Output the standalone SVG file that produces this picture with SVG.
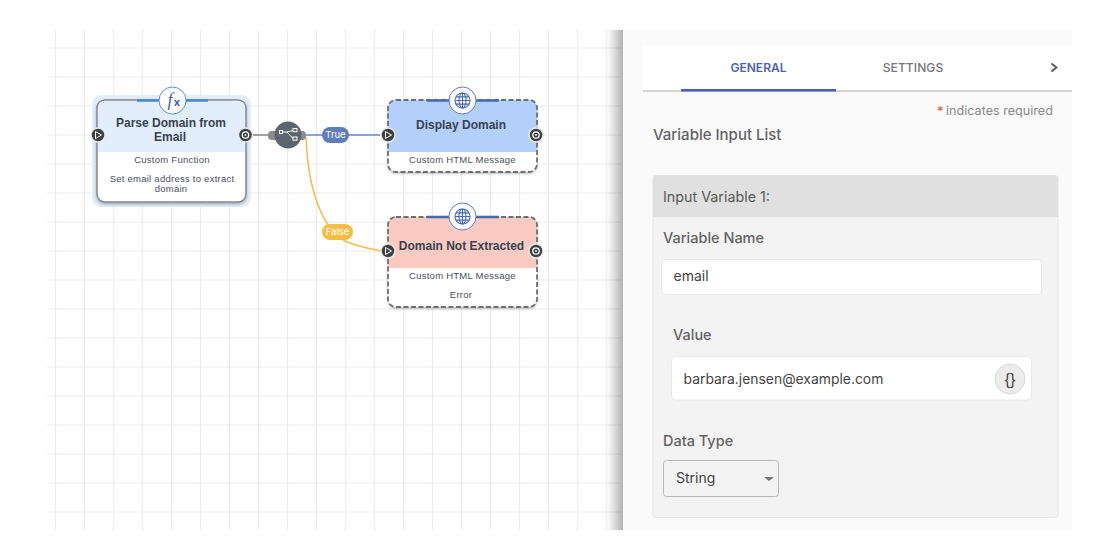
<svg xmlns="http://www.w3.org/2000/svg" width="1120" height="560" viewBox="0 0 1120 560">
<style>
text{font-family:"Inter","Liberation Sans",Arial,sans-serif}
.grid line{stroke:#ececee;stroke-width:1.2}
.title{font-family:"Liberation Sans",Arial,sans-serif;font-size:12px;font-weight:700;fill:#39424f;text-anchor:middle}
.sub{font-family:"Liberation Sans",Arial,sans-serif;font-size:9.5px;fill:#4a505c;text-anchor:middle;letter-spacing:.25px}
.lab{font-size:14.5px;font-weight:500;fill:#636363}
.edge{fill:#fff;font-size:9.5px;text-anchor:middle}
.frame{fill:#fff;stroke:#85898f;stroke-width:1.5}
.dash{fill:none;stroke:#6c7076;stroke-width:1.8;stroke-dasharray:5 2.5}
.port{fill:#3c4043;stroke:#e8e8e8;stroke-width:1.5}
.ico{fill:#fff;stroke:#5a90d8;stroke-width:1}
.glob{fill:none;stroke:#4a68b4;stroke-width:1.1}
</style>
<defs>
<linearGradient id="sh" x1="0" x2="1" y1="0" y2="0"><stop offset="0" stop-color="#000" stop-opacity="0"/><stop offset="1" stop-color="#000" stop-opacity=".3"/></linearGradient>
<filter id="ds" x="-10%" y="-10%" width="120%" height="125%"><feDropShadow dx="0" dy="1.5" stdDeviation="1.5" flood-color="#000" flood-opacity=".3"/></filter>
<g id="in"><circle r="7" class="port"/><path d="M-2.500-3.500 3.500 0-2.500 3.500Z" fill="#3c4043" stroke="#fff" stroke-width="1"/></g>
<g id="out"><circle r="7" class="port"/><circle r="3.200" fill="none" stroke="#fff" stroke-width="1.300"/><circle r=".9" fill="#fff"/></g>
<g id="globe"><circle r="7.500" class="glob"/><ellipse rx="3.500" ry="7.500" class="glob"/><path d="M-7.500 0H7.500M-6.500-3.600H6.500M-6.500 3.600H6.500M0-7.500V7.500" class="glob"/></g>
</defs>
<rect width="1120" height="560" fill="#fff"/>
<g class="grid" id="grid">
<line x1="55.500" y1="30" x2="55.500" y2="530"/><line x1="84.500" y1="30" x2="84.500" y2="530"/><line x1="113.500" y1="30" x2="113.500" y2="530"/><line x1="142.500" y1="30" x2="142.500" y2="530"/><line x1="171.500" y1="30" x2="171.500" y2="530"/><line x1="200.500" y1="30" x2="200.500" y2="530"/><line x1="229.500" y1="30" x2="229.500" y2="530"/><line x1="258.500" y1="30" x2="258.500" y2="530"/><line x1="287.500" y1="30" x2="287.500" y2="530"/><line x1="316.500" y1="30" x2="316.500" y2="530"/><line x1="345.500" y1="30" x2="345.500" y2="530"/><line x1="374.500" y1="30" x2="374.500" y2="530"/><line x1="403.500" y1="30" x2="403.500" y2="530"/><line x1="432.500" y1="30" x2="432.500" y2="530"/><line x1="461.500" y1="30" x2="461.500" y2="530"/><line x1="490.500" y1="30" x2="490.500" y2="530"/><line x1="519.500" y1="30" x2="519.500" y2="530"/><line x1="548.500" y1="30" x2="548.500" y2="530"/><line x1="577.500" y1="30" x2="577.500" y2="530"/><line x1="606.500" y1="30" x2="606.500" y2="530"/>
<line x1="47" y1="48" x2="622" y2="48"/><line x1="47" y1="77" x2="622" y2="77"/><line x1="47" y1="106" x2="622" y2="106"/><line x1="47" y1="135" x2="622" y2="135"/><line x1="47" y1="164" x2="622" y2="164"/><line x1="47" y1="193" x2="622" y2="193"/><line x1="47" y1="222" x2="622" y2="222"/><line x1="47" y1="251" x2="622" y2="251"/><line x1="47" y1="280" x2="622" y2="280"/><line x1="47" y1="309" x2="622" y2="309"/><line x1="47" y1="338" x2="622" y2="338"/><line x1="47" y1="367" x2="622" y2="367"/><line x1="47" y1="396" x2="622" y2="396"/><line x1="47" y1="425" x2="622" y2="425"/><line x1="47" y1="454" x2="622" y2="454"/><line x1="47" y1="483" x2="622" y2="483"/><line x1="47" y1="512" x2="622" y2="512"/>
</g>
<g id="connectors" fill="none">
<path d="M253 135H272" stroke="#8f8f8f" stroke-width="1.600"/>
<path d="M306 135H380" stroke="#6b86c0" stroke-width="1.600"/>
<path d="M306 137C308 190 322 228 345 241C358 247 372 249 381 251" stroke="#f5bf4f" stroke-width="1.600"/>
</g>
<g id="condition">
<rect x="268" y="131" width="38" height="9" rx="4" fill="#8a8d90"/>
<circle cx="288" cy="135" r="13.500" fill="#5d6670"/>
<path d="M282.500 132H287L293 130.500M287 132L293 138.500" fill="none" stroke="#fff" stroke-width="1"/>
<rect x="279.500" y="130.500" width="3" height="3" fill="#5d6670" stroke="#fff" stroke-width="1"/><rect x="293" y="128.500" width="4" height="3.200" fill="#5d6670" stroke="#fff" stroke-width="1"/><rect x="293" y="137" width="4" height="3.200" fill="#5d6670" stroke="#fff" stroke-width="1"/>
</g>
<g id="label-true"><rect x="322" y="127" width="27" height="16" rx="8" fill="#5f7dbb"/><text x="335.500" y="138" class="edge">True</text></g>
<g id="label-false"><rect x="322" y="224" width="31" height="16" rx="8" fill="#f6bd45"/><text x="337.500" y="235" class="edge">False</text></g>
<g id="node-parse">
<rect x="92" y="95" width="159" height="112" rx="9" fill="#e4eefb"/>
<g filter="url(#ds)"><rect x="97" y="100" width="149" height="102" rx="8" class="frame"/></g>
<path d="M98 152V108a7 7 0 0 1 7-7H238a7 7 0 0 1 7 7V152Z" fill="#e3eefd"/>
<path d="M137 100.500H208" stroke="#3f8ad0" stroke-width="2.500"/>
<circle cx="172.500" cy="100.500" r="13.500" class="ico"/>
<text x="170" y="106" font-size="18" font-style="italic" fill="#4a5fae" text-anchor="middle" style="font-family:'Liberation Serif',serif">f</text>
<text x="177" y="106" font-size="11" font-weight="700" fill="#4a5fae" text-anchor="middle">x</text>
<text class="title"><tspan x="171" y="126.500">Parse Domain from</tspan><tspan x="170" dy="14">Email</tspan></text>
<text x="172" y="162.500" class="sub">Custom Function</text>
<text class="sub"><tspan x="172" y="182">Set email address to extract</tspan><tspan x="171" dy="9.500">domain</tspan></text>
<use href="#in" x="98" y="135"/><use href="#out" x="245.500" y="135"/>
</g>
<g id="node-display">
<g filter="url(#ds)"><rect x="388" y="100" width="149" height="72" rx="8" fill="#fff"/></g>
<path d="M388 152V108a8 8 0 0 1 8-8H529a8 8 0 0 1 8 8V152Z" fill="#b3d0fb"/>
<rect x="388" y="100" width="149" height="72" rx="8" class="dash"/>
<path d="M427 100.500H499" stroke="#4468b8" stroke-width="2.500"/>
<circle cx="462.500" cy="100.500" r="13.500" fill="#fff" stroke="#5a7cc4" stroke-width="1"/><use href="#globe" x="462.500" y="100.500"/>
<text x="461" y="129" class="title">Display Domain</text>
<text x="462.500" y="162.500" class="sub">Custom HTML Message</text>
<use href="#in" x="388" y="135"/><use href="#out" x="536" y="135"/>
</g>
<g id="node-error">
<g filter="url(#ds)"><rect x="388" y="217" width="149" height="90" rx="8" fill="#fff"/></g>
<path d="M388 268V225a8 8 0 0 1 8-8H529a8 8 0 0 1 8 8V268Z" fill="#f8cac1"/>
<rect x="388" y="217" width="149" height="90" rx="8" class="dash"/>
<path d="M427 217H499" stroke="#4468b8" stroke-width="2.500"/>
<circle cx="462.500" cy="216.500" r="13.500" fill="#fff" stroke="#5a7cc4" stroke-width="1"/><use href="#globe" x="462.500" y="216.500"/>
<text x="461.500" y="250" class="title">Domain Not Extracted</text>
<text x="462.500" y="278.500" class="sub">Custom HTML Message</text><text x="461" y="298" class="sub">Error</text>
<use href="#in" x="388" y="251"/><use href="#out" x="536" y="251"/>
</g>
<g id="panel">
<rect x="607" y="30" width="16" height="500" fill="url(#sh)"/>
<rect x="623" y="30" width="449" height="500" fill="#fafafa"/>
<rect x="643" y="45" width="429" height="46" fill="#fff"/>
<rect x="643" y="90.500" width="429" height="1" fill="#aeaeae"/>
<rect x="681" y="89" width="155" height="2.500" fill="#4a5bb8"/>
<text x="758.500" y="71.500" font-size="12" font-weight="600" fill="#4f5fb9" text-anchor="middle">GENERAL</text>
<text x="913" y="71.500" font-size="12" font-weight="500" fill="#777" text-anchor="middle" letter-spacing=".1">SETTINGS</text>
<path d="M1051.500 63.500 1056.500 67.500 1051.500 71.500" fill="none" stroke="#555" stroke-width="1.800"/>
<text x="937" y="115.500" font-size="13" fill="#e5522c">*</text>
<text x="946" y="114.500" font-size="12.600" fill="#8a8a8a">indicates required</text>
<text x="653" y="140" class="lab" style="font-size:15px">Variable Input List</text>
<rect x="653" y="175.500" width="405" height="342" rx="3" fill="#f3f3f3" stroke="#e8e8e8"/>
<path d="M653 217V178.500a3 3 0 0 1 3-3H1055a3 3 0 0 1 3 3V217Z" fill="#e0e0e0"/>
<text x="663" y="202" font-size="14.300" fill="#5a5a5a">Input Variable 1:</text>
<text x="663" y="242.500" class="lab">Variable Name</text>
<rect x="661.500" y="259.500" width="380" height="35" rx="4" fill="#fff" stroke="#e6e6e6"/>
<text x="673.500" y="280.500" font-size="14" fill="#444">email</text>
<text x="673" y="340" class="lab">Value</text>
<rect x="671.500" y="356.500" width="360" height="43.500" rx="4" fill="#fff" stroke="#e8e8e8"/>
<text x="683.500" y="384" font-size="13.900" fill="#444">barbara.jensen@example.com</text>
<circle cx="1010" cy="379" r="15" fill="#ececec" stroke="#d8d8d8"/>
<text x="1010" y="384.500" font-size="16" fill="#444" text-anchor="middle" style="font-family:'Liberation Sans',sans-serif">{}</text>
<text x="663" y="445.500" class="lab">Data Type</text>
<rect x="663.500" y="460.500" width="115" height="36" rx="3" fill="#f3f3f3" stroke="#b8b8b8"/>
<text x="676" y="482.500" font-size="14" fill="#444">String</text>
<path d="M764 477H774L769 481Z" fill="#777"/>
</g>
</svg>
